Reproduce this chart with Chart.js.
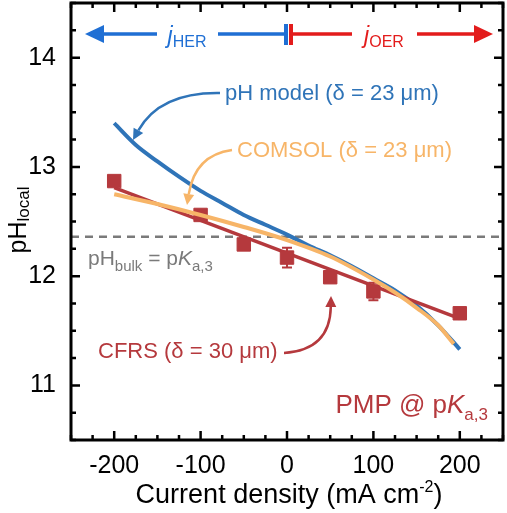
<!DOCTYPE html>
<html>
<head>
<meta charset="utf-8">
<script src="https://cdn.jsdelivr.net/npm/chart.js@4"></script>
<style>
  html, body { margin: 0; padding: 0; background: #fff; }
  #wrap { width: 507px; height: 513px; }
</style>
</head>
<body>
<div id="wrap"><canvas id="myChart"></canvas></div>
<script>
// tick labels
var xTicks = [-200, -100, 0, 100, 200];
var yTicks = [11, 12, 13, 14];

// pH model (delta = 23 um)
var modelX = [-200, -175, -150, -125, -100, -75, -50, -25, 0, 25, 50, 75, 100, 125, 150, 175, 200];
var modelY = [13.40, 13.20, 13.05, 12.91, 12.78, 12.67, 12.56, 12.47, 12.38, 12.28, 12.19, 12.09, 11.98, 11.87, 11.73, 11.55, 11.33];

// COMSOL (delta = 23 um)
var comsolX = [-200, -150, -100, -50, 0, 50, 100, 125, 150, 175, 193];
var comsolY = [12.75, 12.66, 12.56, 12.45, 12.33, 12.18, 11.97, 11.85, 11.71, 11.55, 11.38];

// CFRS measurements + error
var cfrsX = [-200, -100, -50, 0, 50, 100, 200];
var cfrsY = [12.87, 12.56, 12.29, 12.17, 11.99, 11.86, 11.66];
var cfrsErr = [0.04, 0.04, 0.03, 0.09, 0.03, 0.08, 0.04];

// linear fit (CFRS, delta = 30 um)
var fitX = [-200, 200];
var fitY = [12.81, 11.61];

// pH bulk = pKa,3
var bulkX = [-250, 250];
var bulkY = [12.36, 12.36];

var FONT = '"Liberation Sans", Arial, Helvetica, sans-serif';
var BLUE = '#2f74b8';
var ORANGE = '#f7b568';
var RED = '#b5393d';
var GRAY = '#7a7a7a';

function pts(xs, ys) {
    var out = [];
    for (var i = 0; i < xs.length; i++) out.push({ x: xs[i], y: ys[i] });
    return out;
}

// texte avec indices : parts = [[texte, taille, dy, italique], ...]
function rich(ctx, parts, x, y, align) {
    var w = 0;
    parts.forEach(function (p) {
        ctx.font = (p[3] ? 'italic ' : '') + p[1] + 'px ' + FONT;
        w += ctx.measureText(p[0]).width;
    });
    var cx = align === 'center' ? x - w / 2 : (align === 'right' ? x - w : x);
    ctx.textAlign = 'left';
    ctx.textBaseline = 'alphabetic';
    parts.forEach(function (p) {
        ctx.font = (p[3] ? 'italic ' : '') + p[1] + 'px ' + FONT;
        ctx.fillText(p[0], cx, y + (p[2] || 0));
        cx += ctx.measureText(p[0]).width;
    });
}

function curvedArrow(ctx, color, x0, y0, cx, cy, x1, y1) {
    ctx.save();
    ctx.strokeStyle = color;
    ctx.fillStyle = color;
    ctx.lineWidth = 2.5;
    var a = Math.atan2(y1 - cy, x1 - cx);
    var hl = 11, hw = 5.5;
    var bx = x1 - Math.cos(a) * hl, by = y1 - Math.sin(a) * hl;
    ctx.beginPath();
    ctx.moveTo(x0, y0);
    ctx.quadraticCurveTo(cx, cy, bx, by);
    ctx.stroke();
    ctx.beginPath();
    ctx.moveTo(x1, y1);
    ctx.lineTo(bx + Math.sin(a) * hw, by - Math.cos(a) * hw);
    ctx.lineTo(bx - Math.sin(a) * hw, by + Math.cos(a) * hw);
    ctx.closePath();
    ctx.fill();
    ctx.restore();
}

var decor = {
    id: 'decor',
    beforeDatasetsDraw: function (chart) {
        // barres d'erreur
        var ctx = chart.ctx, xs = chart.scales.x, ys = chart.scales.y;
        ctx.save();
        ctx.strokeStyle = RED;
        ctx.lineWidth = 2;
        for (var i = 0; i < cfrsX.length; i++) {
            var px = xs.getPixelForValue(cfrsX[i]);
            var top = ys.getPixelForValue(cfrsY[i] + cfrsErr[i]);
            var bot = ys.getPixelForValue(cfrsY[i] - cfrsErr[i]);
            ctx.beginPath();
            ctx.moveTo(px, top); ctx.lineTo(px, bot);
            ctx.moveTo(px - 5, top); ctx.lineTo(px + 5, top);
            ctx.moveTo(px - 5, bot); ctx.lineTo(px + 5, bot);
            ctx.stroke();
        }
        ctx.restore();
    },
    afterDraw: function (chart) {
        var ctx = chart.ctx, a = chart.chartArea;
        var xs = chart.scales.x, ys = chart.scales.y;
        ctx.save();

        // cadre
        ctx.strokeStyle = '#000';
        ctx.lineWidth = 3;
        ctx.strokeRect(a.left, a.top, a.right - a.left, a.bottom - a.top);

        // graduations vers l'intérieur, 4 côtés
        ctx.lineWidth = 2.5;
        ctx.beginPath();
        for (var v = xs.min; v <= xs.max + 1e-9; v += 25) {
            var px = xs.getPixelForValue(v);
            var len = (Math.round(v) % 100 === 0) ? 9 : 5;
            ctx.moveTo(px, a.bottom); ctx.lineTo(px, a.bottom - len);
            ctx.moveTo(px, a.top); ctx.lineTo(px, a.top + len);
        }
        for (var w = ys.min; w <= ys.max + 1e-9; w += 0.25) {
            var py = ys.getPixelForValue(w);
            var l2 = (Math.abs(w - Math.round(w)) < 1e-6) ? 9 : 5;
            ctx.moveTo(a.left, py); ctx.lineTo(a.left + l2, py);
            ctx.moveTo(a.right, py); ctx.lineTo(a.right - l2, py);
        }
        ctx.stroke();

        // titres des axes
        ctx.fillStyle = '#000';
        rich(ctx, [['Current density (mA cm', 27, 0], ['-2', 16, -11], [')', 27, 0]], 289, 503, 'center');
        ctx.save();
        ctx.translate(26, 220);
        ctx.rotate(-Math.PI / 2);
        rich(ctx, [['pH', 25, 0], ['local', 17, 3]], 0, 0, 'center');
        ctx.restore();

        // flèches j_HER / j_OER
        var ay = 34;
        ctx.fillStyle = '#1f6fd4';
        ctx.strokeStyle = '#1f6fd4';
        ctx.lineWidth = 3.5;
        ctx.beginPath();
        ctx.moveTo(100, ay); ctx.lineTo(157, ay);
        ctx.moveTo(218, ay); ctx.lineTo(285, ay);
        ctx.stroke();
        ctx.beginPath();
        ctx.moveTo(85, ay); ctx.lineTo(104, ay - 9); ctx.lineTo(104, ay + 9); ctx.closePath();
        ctx.fill();
        ctx.fillRect(284, 24, 4, 21);
        rich(ctx, [['j', 23, 0, true], ['HER', 16, 4]], 187, 43, 'center');

        ctx.fillStyle = '#e31c1c';
        ctx.strokeStyle = '#e31c1c';
        ctx.beginPath();
        ctx.moveTo(290, ay); ctx.lineTo(352, ay);
        ctx.moveTo(417, ay); ctx.lineTo(476, ay);
        ctx.stroke();
        ctx.beginPath();
        ctx.moveTo(493, ay); ctx.lineTo(474, ay - 9); ctx.lineTo(474, ay + 9); ctx.closePath();
        ctx.fill();
        ctx.fillRect(289, 24, 4, 21);
        rich(ctx, [['j', 23, 0, true], ['OER', 16, 4]], 384, 43, 'center');

        // légendes en place
        ctx.fillStyle = BLUE;
        rich(ctx, [['pH model (\u03b4 = 23 \u03bcm)', 22, 0]], 225, 100, 'left');
        curvedArrow(ctx, BLUE, 220, 93, 160, 92, 133, 140);

        ctx.fillStyle = ORANGE;
        rich(ctx, [['COMSOL (\u03b4 = 23 \u03bcm)', 22, 0]], 237, 157, 'left');
        curvedArrow(ctx, ORANGE, 232, 150, 195, 155, 187, 205);

        ctx.fillStyle = GRAY;
        rich(ctx, [['pH', 21, 0], ['bulk', 15, 6], [' = p', 21, 0], ['K', 21, 0, true], ['a,3', 15, 6]], 88, 265, 'left');

        ctx.fillStyle = RED;
        rich(ctx, [['CFRS (\u03b4 = 30 \u03bcm)', 22, 0]], 98, 358, 'left');
        curvedArrow(ctx, RED, 284, 353, 330, 350, 331, 296);

        rich(ctx, [['PMP @ p', 26, 0], ['K', 26, 0, true], ['a,3', 17, 7]], 488, 413, 'right');

        ctx.restore();
    }
};

var ctx = document.getElementById('myChart').getContext('2d');
var chart = new Chart(ctx, {
    type: 'scatter',
    data: {
        datasets: [{
            label: 'bulk',
            data: pts(bulkX, bulkY),
            showLine: true,
            borderColor: GRAY,
            borderWidth: 2.5,
            borderDash: [8, 6],
            pointRadius: 0,
            order: 5
        }, {
            label: 'pH model',
            data: pts(modelX, modelY),
            showLine: true,
            borderColor: BLUE,
            borderWidth: 4,
            pointRadius: 0,
            cubicInterpolationMode: 'monotone',
            order: 4
        }, {
            label: 'CFRS fit',
            data: pts(fitX, fitY),
            showLine: true,
            borderColor: RED,
            borderWidth: 3.5,
            pointRadius: 0,
            order: 3
        }, {
            label: 'CFRS',
            data: pts(cfrsX, cfrsY),
            showLine: false,
            pointStyle: 'rect',
            pointRadius: 9.5,
            backgroundColor: RED,
            borderColor: RED,
            borderWidth: 1,
            order: 2
        }, {
            label: 'COMSOL',
            data: pts(comsolX, comsolY),
            showLine: true,
            borderColor: ORANGE,
            borderWidth: 4,
            pointRadius: 0,
            cubicInterpolationMode: 'monotone',
            order: 1
        }]
    },
    options: {
        responsive: true,
        maintainAspectRatio: false,
        animation: false,
        layout: { autoPadding: false, padding: { left: 0, right: 4, top: 3, bottom: 0 } },
        plugins: { legend: { display: false }, tooltip: { enabled: false } },
        events: [],
        scales: {
            x: {
                type: 'linear',
                min: -250,
                max: 250,
                afterBuildTicks: function (s) { s.ticks = xTicks.map(function (v) { return { value: v }; }); },
                afterFit: function (s) { s.height = 73; s.paddingLeft = 0; s.paddingRight = 0; },
                ticks: { color: '#000', font: { size: 25, family: FONT }, padding: 11, maxRotation: 0 },
                grid: { display: false, drawTicks: false },
                border: { display: false }
            },
            y: {
                type: 'linear',
                min: 10.5,
                max: 14.5,
                afterBuildTicks: function (s) { s.ticks = yTicks.map(function (v) { return { value: v }; }); },
                afterFit: function (s) { s.width = 71; s.paddingTop = 0; s.paddingBottom = 0; },
                ticks: { color: '#000', font: { size: 25, family: FONT }, padding: 15 },
                grid: { display: false, drawTicks: false },
                border: { display: false }
            }
        }
    },
    plugins: [decor]
});
</script>
</body>
</html>
